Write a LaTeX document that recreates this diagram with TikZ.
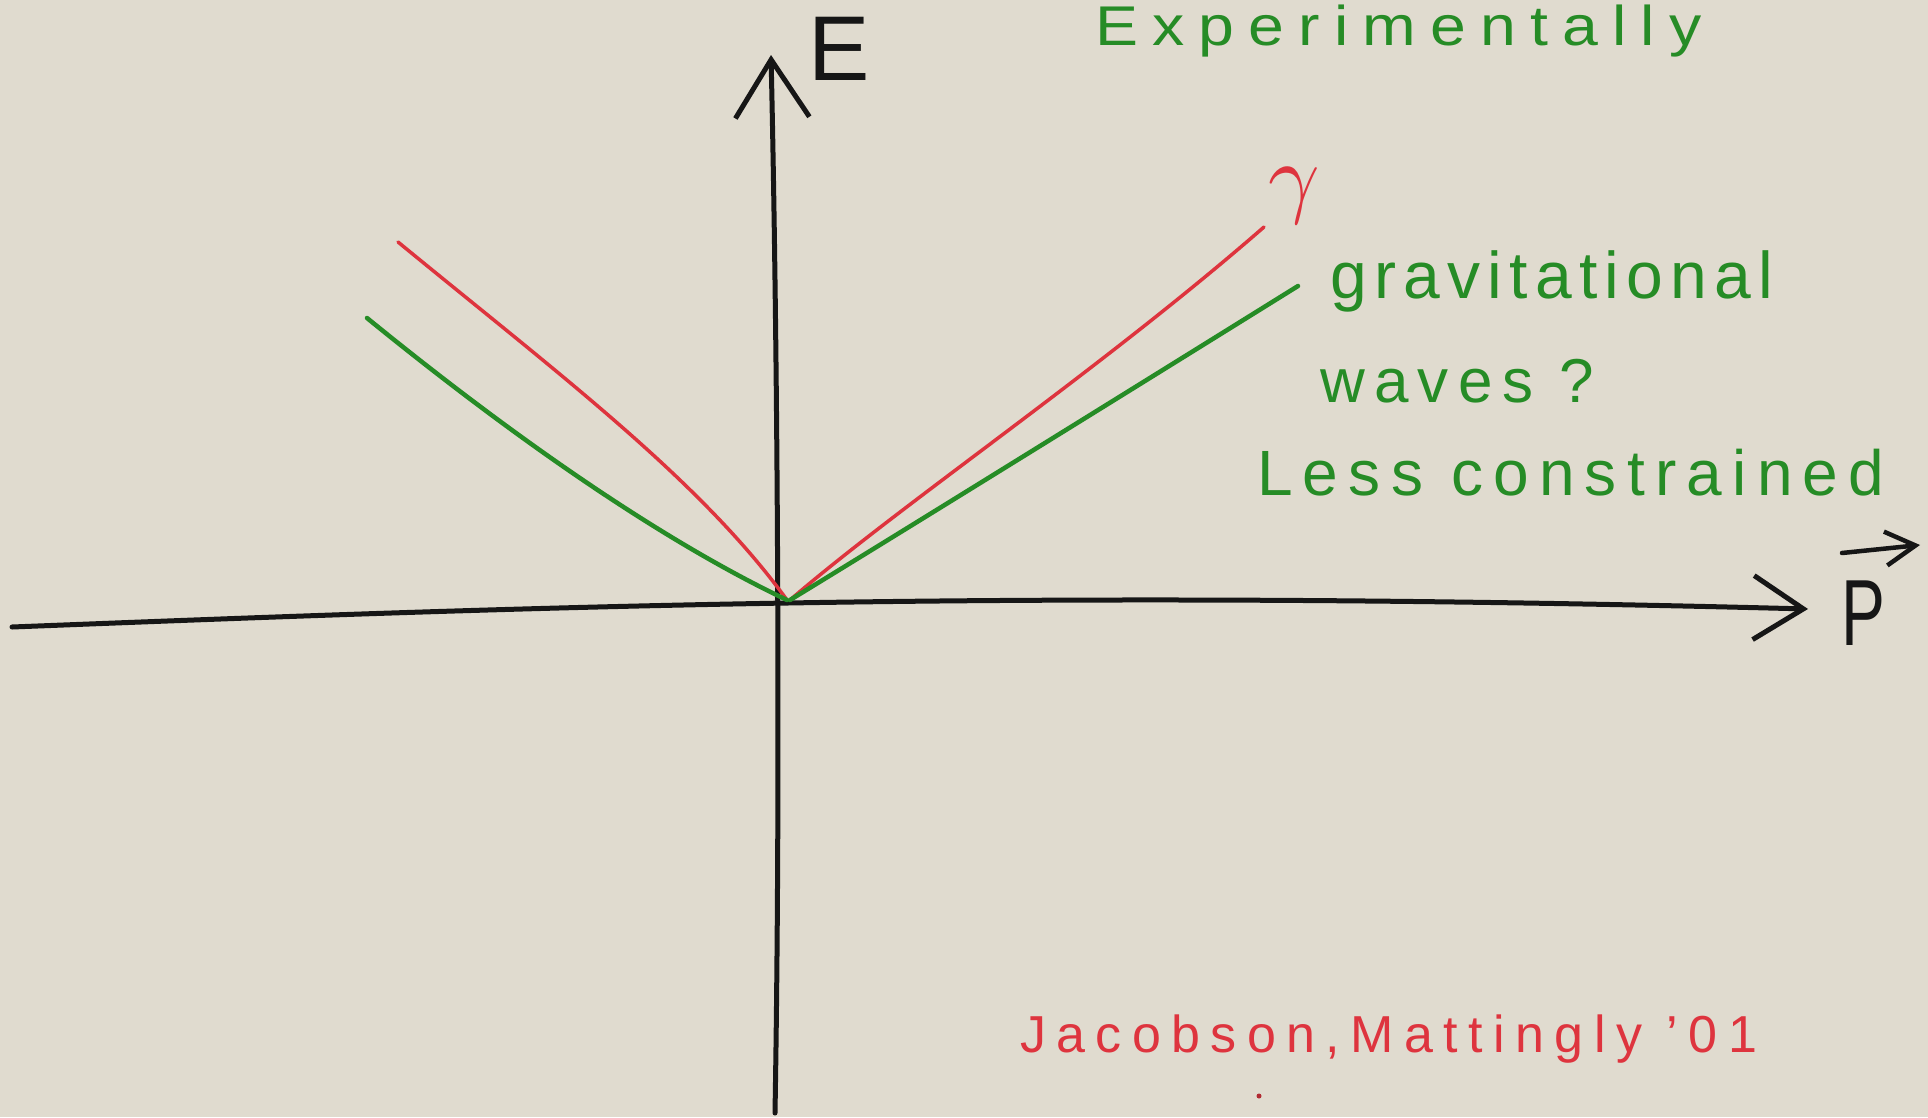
\documentclass[tikz,border=0pt]{standalone}
\usepackage{fontspec}
\usepackage{graphicx}
\setmainfont{Liberation Sans}
\usetikzlibrary{arrows.meta}
\definecolor{bg}{RGB}{224,219,207}
\definecolor{pengreen}{RGB}{38,140,38}
\definecolor{penred}{RGB}{222,52,62}
\definecolor{penblack}{RGB}{22,22,22}
\tikzset{
  axis/.style={draw=penblack, line width=5pt, line cap=round, line join=round},
  curvegreen/.style={draw=pengreen, line width=4.5pt, line cap=round},
  curvered/.style={draw=penred, line width=3.5pt, line cap=round},
  lbl/.style={inner sep=0pt, anchor=base west},
}
\newcommand{\fs}[2]{\fontsize{#1}{#1}\selectfont\addfontfeatures{LetterSpace=#2}}
\begin{document}
\begin{tikzpicture}[x=1pt,y=-1pt]
\fill[bg] (0,0) rectangle (1928,1117);
\useasboundingbox (0,0) rectangle (1928,1117);

% axes
\coordinate (O) at (787,600);
\coordinate (hx0) at (12,627);
\coordinate (hx1) at (1808,609);
\coordinate (vy0) at (775,1113);
\coordinate (vy1) at (771,55);
\draw[axis, -{Straight Barb[length=50pt, width=64pt, line width=5pt]}]
  (hx0) .. controls (500,608) and (1000,588) .. (hx1);
\draw[axis, -{Straight Barb[length=58pt, width=74pt, line width=5pt]}]
  (vy0) .. controls (781,760) and (777,320) .. (vy1);

% axis labels
\node[lbl, text=penblack] (E) at (808,80) {\fs{92}{0}E};
\node[lbl, text=penblack] (P) at (1841,645) {\scalebox{0.7}[1]{\fs{94}{0}P}};
\coordinate (pa) at (1842,553);
\coordinate (pb) at (1920,545);
\draw[draw=penblack, line width=4.5pt, line cap=round, -{Straight Barb[length=30pt, width=34pt, line width=4.5pt]}] (pa) -- (pb);

% red (photon) curves
\draw[curvered] (398,242) .. controls (560,375) and (700,480) .. (O);
\draw[curvered] (790,600) .. controls (900,505) and (1100,370) .. (1264,227);
\node[inner sep=0pt, text=penred] (gamma) at (1294,196) {\scalebox{9}{$\gamma$}};

% green curves
\draw[curvegreen] (367,318) .. controls (480,410) and (640,530) .. (O);
\draw[curvegreen] (790,600) .. controls (900,533) and (1150,378) .. (1298,286);

% green labels
\node[lbl, text=pengreen] (exp) at (1095,45) {\scalebox{1.15}[1]{\fs{56}{22}Experimentally}};
\node[lbl, text=pengreen] (grav) at (1330,298) {\fs{66}{11}gravitational};
\node[lbl, text=pengreen] (waves) at (1320,402) {\fs{62}{15}waves ?};
\node[lbl, text=pengreen] (less) at (1257,495) {\fs{64}{16}Less constrained};

% citation
\node[lbl, text=penred] (cite) at (1020,1052) {\fs{52}{20}Jacobson,Mattingly ’01};
\fill[penred!80!black] (1259,1096) circle (2.5pt);
\end{tikzpicture}
\end{document}
